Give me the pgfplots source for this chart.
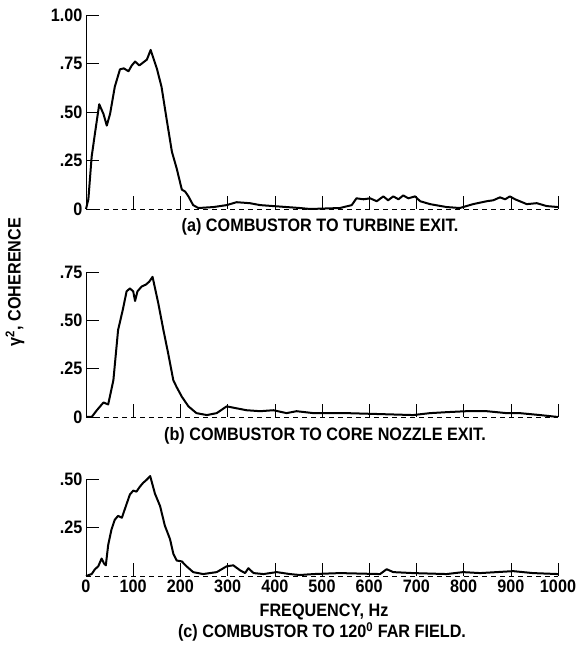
\documentclass[border=0pt]{standalone}
\usepackage{pgfplots}
\pgfplotsset{compat=1.18}
\usepackage{fontspec}
\setmainfont{Liberation Sans}[FakeStretch=0.9]
\begin{document}
\begin{tikzpicture}[font=\fontsize{18}{20}\selectfont\bfseries]
\pgfplotsset{
  panel/.style={
    scale only axis, width=472pt, xmin=0, xmax=1000, ymin=0,
    axis x line=bottom, axis y line=left,
    axis line style={-, line width=0.6pt},
    x axis line style={dash pattern=on 5pt off 4pt},
    xtick={100,200,...,1000}, xticklabels={},
    tick align=inside, major tick length=13pt,
    tick style={line width=0.6pt, black},
    /pgf/number format/assume math mode=true,
    /pgf/number format/1000 sep={},
    ticklabel style={font=\fontsize{18}{20}\selectfont\bfseries},
    clip=false,
  },
  curve/.style={black, line width=2pt, line join=round, no marks},
}
\useasboundingbox (0,0) rectangle (580pt,652pt);
% panel (a)
\begin{axis}[panel, at={(86pt,443pt)}, anchor=south west, height=194pt, ymax=1.0,
  ytick={0,0.25,0.5,0.75,1.0}, yticklabels={0,.25,.50,.75,1.00}]
\addplot[curve] coordinates {
(0,0) (5,0.05) (12,0.27) (19,0.39) (28,0.54) (37,0.49) (44,0.43) (51,0.49)
(61,0.63) (72,0.72) (80,0.725) (90,0.71) (97,0.74) (104,0.76) (113,0.74)
(121,0.755) (129,0.77) (137,0.82) (150,0.725) (160,0.63) (171,0.46) (182,0.295)
(192,0.21) (203,0.10) (210,0.09) (217,0.065) (227,0.02) (238,0.005) (270,0.01)
(298,0.02) (319,0.035) (347,0.03) (369,0.02) (397,0.015) (425,0.01) (453,0.005)
(475,0.0) (538,0.005) (563,0.02) (573,0.055) (588,0.05) (602,0.055) (616,0.04)
(630,0.065) (640,0.045) (651,0.065) (662,0.05) (672,0.07) (683,0.055) (697,0.065)
(708,0.04) (729,0.025) (764,0.01) (792,0.005) (820,0.025) (849,0.04) (863,0.045)
(877,0.06) (888,0.05) (898,0.065) (909,0.05) (919,0.04) (934,0.025) (955,0.03)
(976,0.015) (1000,0.01)
};
\end{axis}
% panel (b)
\begin{axis}[panel, at={(86pt,235pt)}, anchor=south west, height=145pt, ymax=0.75,
  ytick={0,0.25,0.5,0.75}, yticklabels={0,.25,.50,.75}]
\addplot[curve] coordinates {
(0,0) (12,0) (23,0.035) (37,0.075) (47,0.065) (58,0.19) (68,0.45) (78,0.555)
(86,0.65) (93,0.665) (100,0.65) (104,0.60) (109,0.65) (118,0.675) (127,0.685)
(134,0.70) (141,0.725) (153,0.59) (164,0.45) (174,0.33) (185,0.19) (192,0.155)
(203,0.105) (217,0.055) (234,0.02) (256,0.01) (277,0.02) (298,0.055) (319,0.045)
(340,0.035) (369,0.03) (397,0.035) (425,0.02) (446,0.03) (482,0.02) (552,0.02)
(623,0.015) (693,0.01) (729,0.02) (764,0.025) (806,0.03) (849,0.03) (891,0.02)
(919,0.02) (962,0.01) (1000,0.0)
};
\end{axis}
% panel (c)
\begin{axis}[panel, at={(86pt,76pt)}, anchor=south west, height=97pt, ymax=0.5,
  ytick={0.25,0.5}, yticklabels={.25,.50},
  xtick={0,100,...,1000}, xticklabels={0,100,200,300,400,500,600,700,800,900,1000}]
\addplot[curve] coordinates {
(0,0) (12,0.01) (19,0.035) (26,0.05) (33,0.09) (38,0.065) (42,0.055) (47,0.16)
(54,0.24) (61,0.29) (68,0.31) (76,0.30) (83,0.35) (93,0.42) (100,0.44) (107,0.435)
(114,0.46) (121,0.48) (128,0.495) (136,0.515) (146,0.425) (157,0.36) (167,0.26)
(178,0.19) (185,0.115) (192,0.08) (203,0.075) (213,0.05) (227,0.02) (248,0.01)
(277,0.02) (298,0.05) (312,0.055) (326,0.03) (337,0.015) (344,0.04) (355,0.015)
(376,0.01) (404,0.02) (432,0.01) (453,0.005) (482,0.01) (538,0.015) (588,0.012)
(623,0.01) (637,0.035) (651,0.02) (693,0.015) (764,0.01) (799,0.02) (835,0.015)
(905,0.025) (947,0.015) (1000,0.01)
};
\end{axis}
% texts
\node at (320pt,425pt) {(a) COMBUSTOR TO TURBINE EXIT.};
\node at (325pt,216pt) {(b) COMBUSTOR TO CORE NOZZLE EXIT.};
\node at (324pt,40pt) {FREQUENCY, Hz};
\node at (322pt,20pt) {(c) COMBUSTOR TO 120\textsuperscript{0} FAR FIELD.};
\node[rotate=90] at (15pt,370pt) {γ\textsuperscript{2}, COHERENCE};
\end{tikzpicture}
\end{document}
